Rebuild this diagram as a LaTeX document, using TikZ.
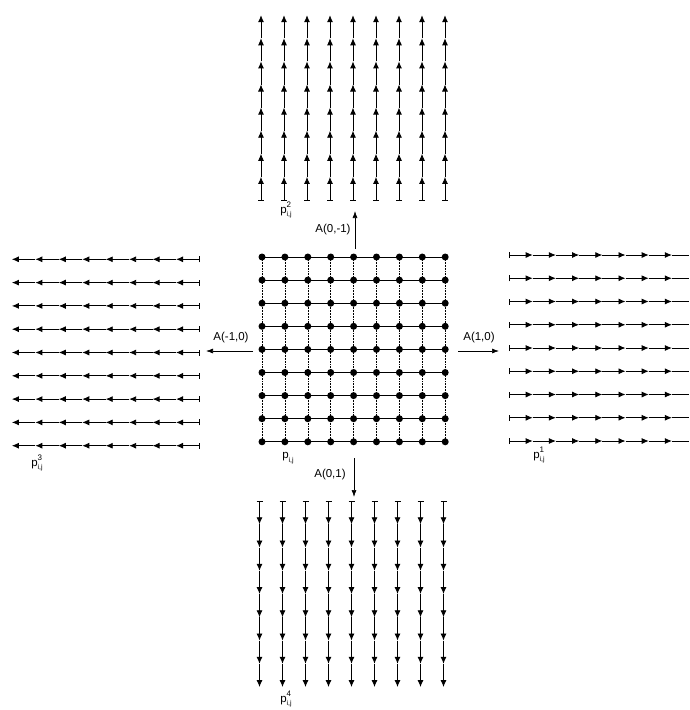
\documentclass[tikz,border=0pt]{standalone}
\usepackage{fontspec}
\setmainfont{Liberation Sans}
\usetikzlibrary{arrows.meta}
\newcommand\pijlabel[1]{p\rlap{\raisebox{5.5pt}{\fontsize{8}{8}\selectfont #1}}\raisebox{-3.5pt}{\fontsize{7}{8}\selectfont i,j}}
\begin{document}
\begin{tikzpicture}[x=1pt,y=-1pt,
  flow/.style={line width=0.85pt,-{Latex[length=7pt,width=6pt]}},
  gridh/.style={line width=0.85pt},
  gridv/.style={line width=0.55pt,densely dotted},
  dot/.style={circle,fill=black,inner sep=0pt,minimum size=7pt},
  lbl/.style={font=\fontsize{11.5}{13}\selectfont,inner sep=0pt},
  plbl/.style={font=\fontsize{11.5}{13}\selectfont,inner sep=0pt},
  op/.style={line width=0.7pt,-{Latex[length=7pt,width=5pt]}},
  tickmark/.style={line width=0.85pt}]
\useasboundingbox (0,0) rectangle (689,710);

% ---------- centre grid ----------
\foreach \i in {0,...,8}{
  \foreach \j in {0,...,8}{
    \coordinate (c-\i-\j) at ({262+22.9*\i},{257+23.1*\j});
  }
}
\foreach \j in {0,...,8}{ \draw[gridh] (c-0-\j) -- (c-8-\j); }
\foreach \i in {0,...,8}{ \draw[gridv] (c-\i-0) -- (c-\i-8); }
\foreach \i in {0,...,8}{
  \foreach \j in {0,...,8}{ \node[dot] (d-\i-\j) at (c-\i-\j) {}; }
}

% ---------- top grid (arrows up) ----------
\foreach \i in {0,...,8}{
  \foreach \k in {0,...,8}{
    \coordinate (t-\i-\k) at ({261+23*\i},{200-23.1*\k});
  }
  \draw[tickmark] ([xshift=-3pt]t-\i-0) -- ([xshift=3pt]t-\i-0);
  \foreach \k [evaluate=\k as \kk using int(\k+1)] in {0,...,7}{
    \draw[flow] (t-\i-\k) -- (t-\i-\kk);
  }
}

% ---------- bottom grid (arrows down) ----------
\foreach \i in {0,...,8}{
  \foreach \k in {0,...,8}{
    \coordinate (b-\i-\k) at ({259.5+23*\i},{501+23.25*\k});
  }
  \draw[tickmark] ([xshift=-3pt]b-\i-0) -- ([xshift=3pt]b-\i-0);
  \foreach \k [evaluate=\k as \kk using int(\k+1)] in {0,...,7}{
    \draw[flow] (b-\i-\k) -- (b-\i-\kk);
  }
}

% ---------- left grid (arrows left) ----------
\foreach \j in {0,...,8}{
  \foreach \k in {0,...,8}{
    \coordinate (l-\j-\k) at ({199.5-23.45*\k},{259.3+23.3*\j});
  }
  \draw[tickmark] ([yshift=-3pt]l-\j-0) -- ([yshift=3pt]l-\j-0);
  \foreach \k [evaluate=\k as \kk using int(\k+1)] in {0,...,7}{
    \draw[flow] (l-\j-\k) -- (l-\j-\kk);
  }
}

% ---------- right grid (arrows right) ----------
\foreach \j in {0,...,8}{
  \foreach \k in {0,...,7}{
    \coordinate (r-\j-\k) at ({509.5+23.2*\k},{255+23.25*\j});
  }
  \coordinate (r-\j-end) at (689,{255+23.25*\j});
  \draw[tickmark] ([yshift=-3pt]r-\j-0) -- ([yshift=3pt]r-\j-0);
  \foreach \k [evaluate=\k as \kk using int(\k+1)] in {0,...,6}{
    \draw[flow] (r-\j-\k) -- (r-\j-\kk);
  }
  \draw[gridh] (r-\j-7) -- (r-\j-end);
}

% ---------- operator arrows ----------
\coordinate (up0) at (355,249);  \coordinate (up1) at (355,211);
\draw[op] (up0) -- (up1);
\node[lbl] (aup) at (333,230) {A(0,-1)};

\coordinate (dn0) at (354,458);  \coordinate (dn1) at (354,497);
\draw[op] (dn0) -- (dn1);
\node[lbl] (adn) at (330,475) {A(0,1)};

\coordinate (lf0) at (253,351);  \coordinate (lf1) at (206,351);
\draw[op] (lf0) -- (lf1);
\node[lbl] (alf) at (231,338) {A(-1,0)};

\coordinate (rt0) at (458,351);  \coordinate (rt1) at (499,351);
\draw[op] (rt0) -- (rt1);
\node[lbl] (art) at (479,338) {A(1,0)};

% ---------- point labels ----------
\node[plbl] (p0) at (288,458) {p\raisebox{-3.5pt}{\fontsize{7}{8}\selectfont i,j}};
\node[plbl] (p1) at (539,455) {\pijlabel{1}};
\node[plbl] (p2) at (286,210) {\pijlabel{2}};
\node[plbl] (p3) at (37,463) {\pijlabel{3}};
\node[plbl] (p4) at (286,699) {\pijlabel{4}};
\end{tikzpicture}
\end{document}
